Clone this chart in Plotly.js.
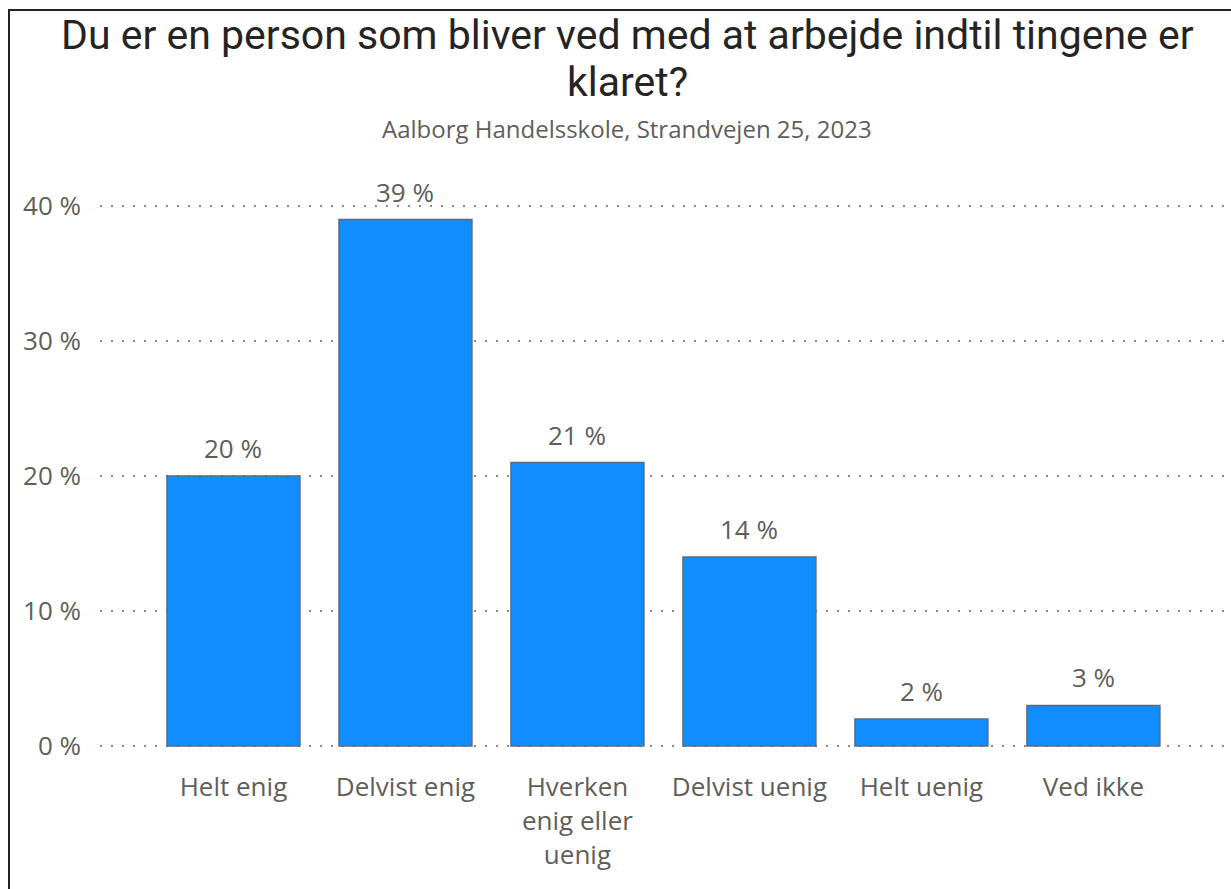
<!DOCTYPE html>
<html>
<head>
<meta charset="utf-8">
<script src="https://cdn.plot.ly/plotly-3.0.1.min.js"></script>
<style>
  html, body { margin: 0; padding: 0; background: #fff; overflow: hidden; }
  #frame { position: absolute; left: 8px; top: 9px; width: 1240px; height: 900px; border: 2px solid #222; box-sizing: border-box; }
  #chart { position: absolute; left: 0; top: 0; width: 1231px; height: 889px; }
</style>
</head>
<body>
<div id="chart"></div>
<div id="frame"></div>
<script>
const titleLines = ["Du er en person som bliver ved med at arbejde indtil tingene er", "klaret?"];
const subtitleText = "Aalborg Handelsskole, Strandvejen 25, 2023";
const categories = ["Helt enig", "Delvist enig", "Hverken enig eller uenig", "Delvist uenig", "Helt uenig", "Ved ikke"];
const categoryLabels = ["Helt enig", "Delvist enig", "Hverken<br>enig eller<br>uenig", "Delvist uenig", "Helt uenig", "Ved ikke"];
const values = [20, 39, 21, 14, 2, 3];
const yTicks = [0, 10, 20, 30, 40];
const yTickLabels = ["0 %", "10 %", "20 %", "30 %", "40 %"];

const labelFont = { family: "Open Sans, Noto Sans, sans-serif", size: 26, color: "#605E5C" };
const titleFont = { family: "Roboto, sans-serif", size: 41, color: "#252423" };

const trace = {
  type: "bar",
  x: categories,
  y: values,
  marker: { color: "#118DFF", line: { color: "#5B6B7E", width: 1.5 } },
  hoverinfo: "x+y"
};

const annotations = categories.map((c, i) => ({
  x: c, y: values[i], xref: "x", yref: "y",
  text: values[i] + " %",
  showarrow: false, yanchor: "bottom", yshift: 8,
  font: labelFont
}));
annotations.push({
  xref: "paper", yref: "paper", x: 0.466, y: 1, yanchor: "middle", yshift: 74,
  text: subtitleText, showarrow: false,
  font: { family: "Open Sans, Noto Sans, sans-serif", size: 24, color: "#605E5C" }
});
titleLines.forEach((t, i) => {
  annotations.push({
    xref: "paper", yref: "paper", x: 0.466, y: 1, yanchor: "middle", yshift: 167 - 47 * i,
    text: t, showarrow: false, font: titleFont
  });
});

const layout = {
  width: 1231, height: 889,
  margin: { l: 100, r: 0, t: 202, b: 139 },
  paper_bgcolor: "#fff", plot_bgcolor: "#fff",
  showlegend: false,
  bargap: 0.227,
  xaxis: {
    type: "category",
    range: [-0.776, 5.80],
    tickvals: categories, ticktext: categoryLabels,
    tickfont: labelFont,
    showgrid: false, zeroline: false, showline: false, ticks: "",
    ticklabelstandoff: 19
  },
  yaxis: {
    range: [-0.3, 40.3],
    tickvals: yTicks, ticktext: yTickLabels,
    tickfont: labelFont,
    showgrid: true, gridcolor: "#8A8A8A", gridwidth: 2, griddash: "2px,9px",
    zeroline: false, showline: false, ticks: "",
    ticklabelstandoff: 18
  },
  annotations: annotations
};

Plotly.newPlot("chart", [trace], layout, { displayModeBar: false, staticPlot: true });
</script>
</body>
</html>
